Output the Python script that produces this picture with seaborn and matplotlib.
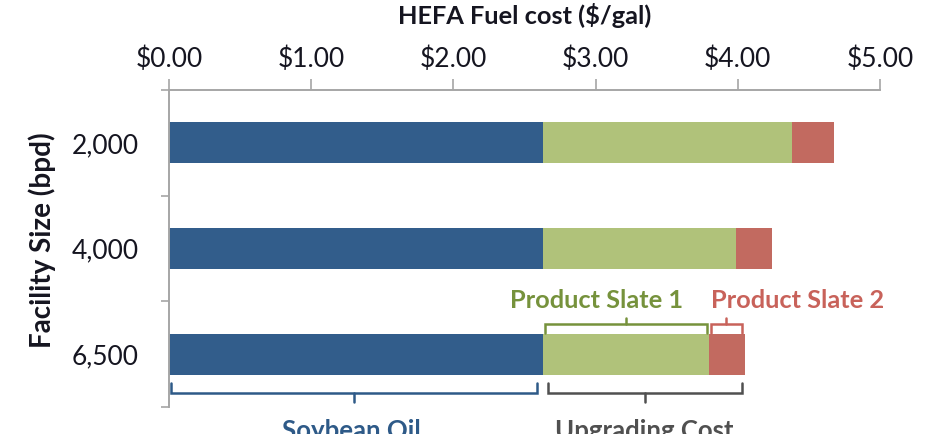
import matplotlib
matplotlib.use("Agg")
import matplotlib.pyplot as plt
import seaborn as sns
import pandas as pd

# ---- data ----
facility = ["2,000", "4,000", "6,500"]
soybean_oil = [2.63, 2.63, 2.63]
product_slate1 = [1.75, 1.36, 1.17]
product_slate2 = [0.30, 0.25, 0.25]
x_ticks = [0, 1, 2, 3, 4, 5]
x_ticklabels = ["$0.00", "$1.00", "$2.00", "$3.00", "$4.00", "$5.00"]

BLUE = "#325D8B"
GREEN = "#B0C27A"
RED = "#C26A60"
GREEN_TXT = "#76923C"
RED_TXT = "#C8625A"
BLUE_TXT = "#2E5A88"
GRAY_BR = "#505050"
SPINE = "#A6A6A6"
TXT = "#151520"

sns.set_theme(style="white")
plt.rcParams['font.family'] = ['Lato', 'DejaVu Sans']

df = pd.DataFrame({"facility": facility,
                   "soy": soybean_oil,
                   "s1": product_slate1,
                   "s2": product_slate2})
df["cum1"] = df["soy"] + df["s1"]
df["total"] = df["cum1"] + df["s2"]

fig = plt.figure(figsize=(9.28, 4.34), dpi=100)
ax = fig.add_axes([169 / 928, 1 - 407 / 434, (880 - 169) / 928, (407 - 90) / 434])

bw = 0.39
for col, c in (("total", RED), ("cum1", GREEN), ("soy", BLUE)):
    sns.barplot(data=df, y="facility", x=col, orient="h", color=c, saturation=1,
                width=bw, linewidth=0, ax=ax, order=facility)

ax.set_xlim(0, 5)
ax.set_ylim(2.5, -0.5)

# x axis on top
ax.xaxis.set_ticks_position("top")
ax.xaxis.set_label_position("top")
ax.set_xticks(x_ticks)
ax.set_xticklabels(x_ticklabels, fontsize=19, color=TXT)
ax.tick_params(axis="x", which="major", direction="out", length=8, width=1.2,
               color=SPINE, pad=5, top=True, bottom=False)
ax.set_xlabel("HEFA Fuel cost ($/gal)", fontsize=18.3, fontweight="bold",
              color=TXT, labelpad=16)

# y axis
ax.set_yticks(range(len(facility)))
ax.set_yticklabels(facility, fontsize=19, color=TXT)
ax.tick_params(axis="y", which="major", length=0, pad=22, left=True)
ax.set_yticks([-0.5, 0.5, 1.5, 2.5], minor=True)
ax.tick_params(axis="y", which="minor", direction="out", length=6, width=1.2,
               color=SPINE, left=True)
ax.set_ylabel("Facility Size (bpd)", fontsize=20, fontweight="bold", color=TXT)
ax.yaxis.set_label_coords((56 - 169) / 711, (407 - 240) / 317)

for s in ("right", "bottom"):
    ax.spines[s].set_visible(False)
for s in ("top", "left"):
    ax.spines[s].set_color(SPINE)
    ax.spines[s].set_linewidth(1.4)
ax.grid(False)


def bracket(x0, x1, y, end_dy, mid_dy, color):
    xm = (x0 + x1) / 2
    ax.plot([x0, x0, x1, x1], [y + end_dy, y, y, y + end_dy], color=color,
            lw=1.8, clip_on=False, solid_joinstyle="miter")
    ax.plot([xm, xm], [y, y + mid_dy], color=color, lw=1.8, clip_on=False)


i = 2  # last facility bar gets the annotations
soy = soybean_oil[i]
c1 = soy + product_slate1[i]
tot = c1 + product_slate2[i]
ybot = i + bw / 2
ytop = i - bw / 2

# below bar
bracket(0.015, soy - 0.04, ybot + 0.17, -0.09, 0.09, BLUE_TXT)
bracket(soy + 0.035, tot - 0.02, ybot + 0.17, -0.09, 0.09, GRAY_BR)
ax.text(soy / 2 - 0.03, ybot + 0.53, "Soybean Oil", color=BLUE_TXT, fontsize=18.5,
        fontweight="bold", ha="center", va="center", clip_on=False)
ax.text((soy + tot) / 2, ybot + 0.53, "Upgrading Cost", color=GRAY_BR, fontsize=18.5,
        fontweight="bold", ha="center", va="center", clip_on=False)

# above bar
bracket(soy + 0.015, c1 - 0.02, ytop - 0.09, 0.08, -0.06, GREEN_TXT)
bracket(c1 + 0.01, tot - 0.02, ytop - 0.09, 0.08, -0.06, RED_TXT)
ax.text(soy + 0.38, i - 0.51, "Product Slate 1", color=GREEN_TXT, fontsize=18.3,
        fontweight="bold", ha="center", va="center")
ax.text(tot + 0.37, i - 0.51, "Product Slate 2", color=RED_TXT, fontsize=18.3,
        fontweight="bold", ha="center", va="center", clip_on=False)

fig.savefig("out.png", dpi=100)
